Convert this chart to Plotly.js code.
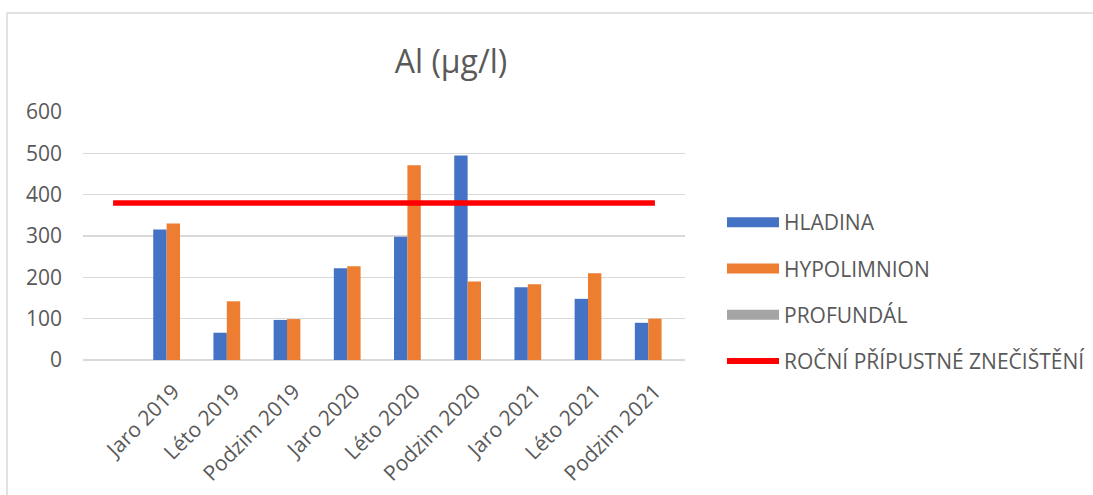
<!DOCTYPE html>
<html>
<head>
<meta charset="utf-8">
<script src="https://cdn.plot.ly/plotly-3.0.1.min.js"></script>
<style>
html,body{margin:0;padding:0;background:#fff;}
#chart{width:1093px;height:495px;}
</style>
</head>
<body>
<div id="chart"></div>
<script>
// Data
var categories = [" ", "Jaro 2019", "Léto 2019", "Podzim 2019", "Jaro 2020", "Léto 2020", "Podzim 2020", "Jaro 2021", "Léto 2021", "Podzim 2021"];
var hladina     = [null, 316, 66, 97, 222, 298, 495, 176, 148, 90];
var hypolimnion = [null, 330, 142, 99, 227, 471, 190, 183, 210, 100];
var profundal   = [null, 0, 0, 0, 0, 0, 0, 0, 0, 0];
var limit       = [380, 380, 380, 380, 380, 380, 380, 380, 380, 380];
var seriesNames = ["HLADINA", "HYPOLIMNION", "PROFUNDÁL", "ROČNÍ PŘÍPUSTNÉ ZNEČIŠTĚNÍ"];
var colors = ["#4472C4", "#ED7D31", "#A5A5A5", "#FF0000"];

var FONT = "Open Sans, Noto Sans, sans-serif";
var TXT = "#595959";

var traces = [
  {type: "bar", x: categories, y: hladina, name: seriesNames[0], marker: {color: colors[0]}, showlegend: false},
  {type: "bar", x: categories, y: hypolimnion, name: seriesNames[1], marker: {color: colors[1]}, showlegend: false},
  {type: "bar", x: categories, y: profundal, name: seriesNames[2], marker: {color: colors[2]}, showlegend: false},
  {type: "scatter", mode: "lines", x: categories, y: limit, name: seriesNames[3],
   line: {color: colors[3], width: 5.5}, showlegend: false},
  // legend-only entries (wide swatches like the original)
  {type: "scatter", mode: "lines", x: [null], y: [null], name: seriesNames[0], line: {color: colors[0], width: 13}, legendgroup: "a"},
  {type: "scatter", mode: "lines", x: [null], y: [null], name: seriesNames[1], line: {color: colors[1], width: 13}, legendgroup: "b"},
  {type: "scatter", mode: "lines", x: [null], y: [null], name: seriesNames[2], line: {color: colors[2], width: 13}, legendgroup: "c"},
  {type: "scatter", mode: "lines", x: [null], y: [null], name: seriesNames[3], line: {color: colors[3], width: 6}, legendgroup: "d"}
];

var layout = {
  width: 1093, height: 495,
  paper_bgcolor: "#ffffff", plot_bgcolor: "#ffffff",
  margin: {l: 83, r: 408, t: 112, b: 135},
  font: {family: FONT, color: TXT, size: 21},
  title: {text: "Al (µg/l)", font: {family: FONT, size: 32, color: TXT},
          x: 451 / 1093, xanchor: "center", xref: "container",
          y: 1 - 62 / 495, yanchor: "middle", yref: "container"},
  barmode: "group", bargap: 1/3, bargroupgap: 0,
  xaxis: {type: "category", range: [-0.5, 9.5], tickangle: -45, showgrid: false,
          showline: false, zeroline: false, ticks: "", ticklabelstandoff: 14,
          tickfont: {family: FONT, size: 21, color: TXT}, fixedrange: true},
  yaxis: {range: [0, 600], dtick: 100, showgrid: true, gridcolor: "#D9D9D9", gridwidth: 1.5,
          zeroline: true, zerolinecolor: "#D9D9D9", zerolinewidth: 1.5, showline: false,
          ticks: "", ticklabelstandoff: 20,
          tickfont: {family: FONT, size: 21, color: TXT}, fixedrange: true},
  legend: {xref: "container", yref: "container", x: 722 / 1093, xanchor: "left",
           y: 1 - 202 / 495, yanchor: "top",
           traceorder: "grouped", tracegroupgap: 16, itemwidth: 52,
           font: {family: FONT, size: 21, color: TXT}, bgcolor: "rgba(0,0,0,0)"},
  showlegend: true,
  shapes: [
    {type: "rect", xref: "paper", yref: "paper", x0: (7 - 83) / 602, x1: 1.8, y0: -1, y1: 1 + (112 - 13) / 248,
     line: {color: "#D9D9D9", width: 1.5}, fillcolor: "rgba(0,0,0,0)", layer: "below"}
  ]
};

Plotly.newPlot("chart", traces, layout, {displayModeBar: false, staticPlot: true});
</script>
</body>
</html>
